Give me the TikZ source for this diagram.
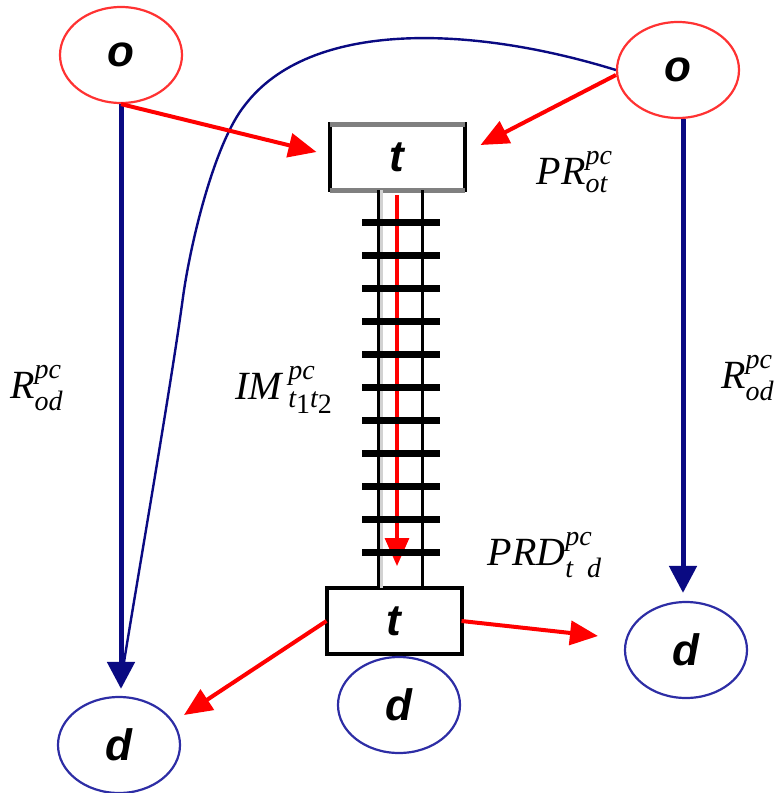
\documentclass[tikz,border=0pt]{standalone}
\usepackage{fontspec}
\usepackage{amsmath}
\setmainfont{Liberation Serif}
\newfontfamily\sanslet{Liberation Sans}
\usetikzlibrary{shapes.geometric,arrows.meta,calc}
\definecolor{navyline}{RGB}{10,10,130}
\definecolor{ringblue}{RGB}{45,45,165}
\definecolor{ringred}{RGB}{255,50,50}
\definecolor{edgegray}{RGB}{128,128,128}

\begin{document}
\begin{tikzpicture}[x=0.5pt, y=-0.5pt,
    orig/.style={ellipse, draw=ringred, line width=1.1pt, minimum width=61pt, minimum height=48pt, inner sep=0pt,
        font=\fontsize{22}{24}\selectfont\sanslet\bfseries\itshape},
    dest/.style={orig, draw=ringblue},
    term/.style={rectangle, draw=black, line width=2pt, minimum width=67.5pt, minimum height=33pt, inner sep=0pt, outer sep=0pt,
        font=\fontsize{22}{24}\selectfont\sanslet\bfseries\itshape},
    redflow/.style={red, line width=2pt, -{Triangle[length=14pt,width=12pt]}},
    blueroute/.style={navyline, line width=2.5pt, -{Triangle[length=13.5pt,width=13.5pt]}},
    lbl/.style={font=\fontsize{20}{22}\selectfont\itshape, inner sep=0pt}]
    \useasboundingbox (0,0) rectangle (773,793);

    % Các nút
    \node[orig] (o1) at (121,55) {o};
    \node[orig] (o2) at (678,70) {o};
    \node[term] (t1) at (397,157) {t};
    \node[term] (t2) at (394,621) {t};
    \node[dest] (d1) at (119,745) {d};
    \node[dest] (d2) at (399,705) {d};
    \node[dest] (d3) at (686,650) {d};

    % Cạnh xám của ô t trên
    \draw[edgegray, line width=2.5pt] (t1.north west) -- (t1.north east);
    \draw[edgegray, line width=2.5pt] (t1.south west) -- (t1.south east);

    % Mũi tên đỏ dọc đường ray
    \draw[redflow, line width=1.6pt, shorten <=2.5pt, shorten >=11pt] (t1.south) -- (t1.south |- t2.north);

    % Đường ray
    \draw[gray!35, line width=1.5pt] ([xshift=-8pt]t1.south) -- ([xshift=-8pt]t1.south |- t2.north);
    \draw[line width=1.5pt] ([xshift=-9.5pt]t1.south) -- ([xshift=-9.5pt]t1.south |- t2.north);
    \draw[line width=1.5pt] ([xshift=12.5pt]t1.south) -- ([xshift=12.5pt]t1.south |- t2.north);
    \foreach \y in {222,255,...,552} {
        \draw[line width=3.5pt] (362,\y) -- (440,\y);
    }

    % Mũi tên xanh
    \draw[blueroute, shorten >=3.5pt] (o1.south) -- (o1.south |- d1.north);
    \draw[blueroute, shorten >=4pt] ([xshift=2.5pt]o2.south) -- ([xshift=2.5pt]o2.south |- d3.north);
    \draw[navyline, line width=1.2pt] (o2.west) .. controls (470,25) and (310,20) .. (245,105)
        .. controls (215,142) and (191,240) .. (183,297)
        .. controls (171,387) and (132,610) .. ($(d1.north)+(2,-15)$);

    % Mũi tên đỏ
    \draw[redflow] (o1.south) -- ([xshift=-6.5pt,yshift=2.5pt]t1.west);
    \draw[redflow] ([yshift=-2.5pt]o2.west) -- ([xshift=8pt,yshift=6pt]t1.east);
    \draw[redflow] (t2.west) -- ($(d1)+(65,-30)$);
    \draw[redflow] (t2.east) -- ($(d3)+(-88,-14)$);

    % Nhãn
    \node[lbl] (rl) at (37,388) {R$^{\textit{pc}}_{\textit{od}}$};
    \node[lbl] (rr) at (748,378) {R$^{\textit{pc}}_{\textit{od}}$};
    \node[lbl] (pr) at (575,172) {PR$^{\textit{pc}}_{\textit{ot}}$};
    \node[lbl] (im) at (284,390) {IM\,$^{\textit{pc}}_{\text{\itshape t\raisebox{-0.2em}{\upshape 1}t\raisebox{-0.2em}{\upshape 2}}}$};
    \node[lbl] (prd) at (545,555) {PRD$^{\textit{pc}}_{\textit{t\ \ d}}$};
\end{tikzpicture}
\end{document}
